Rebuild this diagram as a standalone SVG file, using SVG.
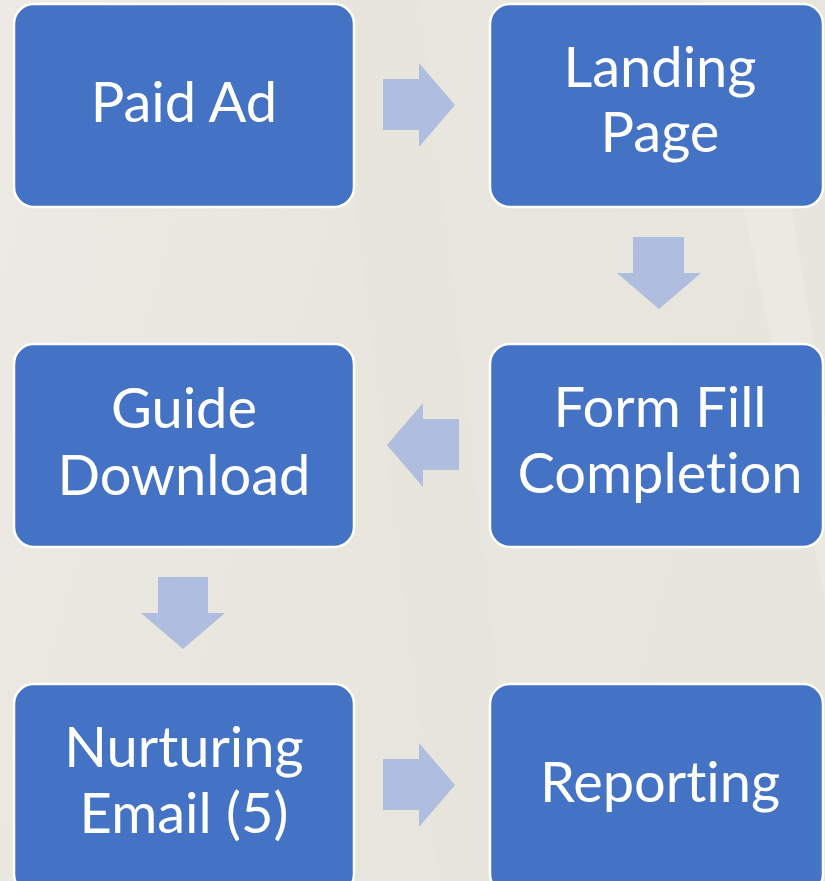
<svg xmlns="http://www.w3.org/2000/svg" width="825" height="881" viewBox="0 0 825 881">
<defs>
<linearGradient id="bg" x1="0" y1="0" x2="1" y2="0.3">
<stop offset="0" stop-color="#EDEAE5"/>
<stop offset="0.5" stop-color="#E9E6DF"/>
<stop offset="1" stop-color="#E8E5DD"/>
</linearGradient>
<style>
.box{fill:#4472C4;stroke:#FFFFFF;stroke-width:2.5}
.lbl{fill:#FFFFFF;font-family:Lato,"Open Sans","Liberation Sans",sans-serif;font-size:56px;text-anchor:middle;font-variant-ligatures:none;font-feature-settings:"liga" 0,"clig" 0}
.arr{fill:#AFBDDE}
</style>
</defs>
<rect width="825" height="881" fill="url(#bg)"/>
<polygon points="330,0 420,0 520,881 440,881" fill="#E6E3DA" opacity="0.5"/>
<polygon points="700,0 760,0 825,420 825,600" fill="#EFEDE7" opacity="0.5"/>
<g id="connectors">
<polygon class="arr" points="383,79 419,79 419,63 455,105 419,147 419,130 383,130"/>
<polygon class="arr" points="633,237 684,237 684,273 701,273 659,309 617,273 633,273"/>
<polygon class="arr" points="459,419 423,419 423,403 387,445 423,487 423,470 459,470"/>
<polygon class="arr" points="158,577 208,577 208,613 225,613 183,649 141,613 158,613"/>
<polygon class="arr" points="383,759 419,759 419,743 455,785 419,827 419,810 383,810"/>
</g>
<g id="paid-ad">
<rect class="box" x="14" y="4" width="340" height="203" rx="20"/>
<text class="lbl" x="184" y="122">Paid Ad</text>
</g>
<g id="landing-page">
<rect class="box" x="490" y="4" width="333" height="203" rx="20"/>
<text class="lbl" x="660" y="87">Landing</text>
<text class="lbl" x="660" y="152">Page</text>
</g>
<g id="form-fill">
<rect class="box" x="490" y="344" width="333" height="203" rx="20"/>
<text class="lbl" x="660" y="427">Form Fill</text>
<text class="lbl" x="660" y="493">Completion</text>
</g>
<g id="guide-download">
<rect class="box" x="14" y="344" width="340" height="203" rx="20"/>
<text class="lbl" x="184" y="428">Guide</text>
<text class="lbl" x="184" y="495">Download</text>
</g>
<g id="nurturing-email">
<rect class="box" x="14" y="684" width="340" height="210" rx="20"/>
<text class="lbl" x="184" y="767">Nurturing</text>
<text class="lbl" x="184" y="833">Email (5)</text>
</g>
<g id="reporting">
<rect class="box" x="490" y="684" width="333" height="210" rx="20"/>
<text class="lbl" x="660" y="802">Reporting</text>
</g>
</svg>
